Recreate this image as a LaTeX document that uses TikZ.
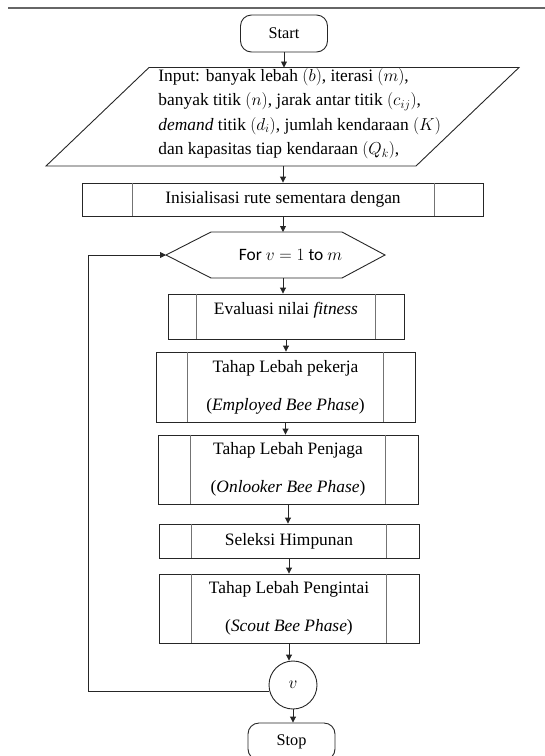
\documentclass[tikz,border=0pt]{standalone}
\usepackage{fontspec}
\setmainfont{Liberation Serif}
\newfontfamily\calibri{Carlito}
\usetikzlibrary{arrows.meta}

\begin{document}
\begin{tikzpicture}[x=1pt, y=-1pt, line width=0.9pt, draw=black!85,
        every node/.style={font=\fontsize{17.4}{21}\selectfont, inner sep=0pt},
        term/.style={draw, rounded corners=11pt, minimum width=87pt, minimum height=37pt, font=\fontsize{16.3}{20}\selectfont},
        proc/.style={draw, align=center},
        arr/.style={-{Triangle[length=6pt, width=6pt]}},
        inner/.style={draw=black!55}]
        \clip (0, 0) rectangle (545, 756);

        \draw[line width=1.6pt, black!60] (8, 8) -- (545, 8);

        \node (start) at (284, 33.5) [term] {Start};

        \draw (46, 166) -- (149, 67.5) -- (519, 67.5) -- (416, 166) -- cycle;
        \coordinate (intop) at (284, 67.5);
        \coordinate (inbot) at (283, 166);
        \node (input) at (158, 113.5) [anchor=west, align=left, font=\fontsize{17.4}{24.5}\selectfont] {Input: banyak lebah $(b)$, iterasi $(m)$,\\
            banyak titik $(n)$, jarak antar titik $(c_{ij})$,\\
            \textit{demand} titik $(d_i)$, jumlah kendaraan $(K)$\\
            dan kapasitas tiap kendaraan $(Q_k)$,};

        \node (init) at (283, 199.5) [proc, minimum width=401pt, minimum height=33pt] {Inisialisasi rute sementara dengan};

        \draw (166, 255) -- (211, 232) -- (342, 232) -- (385, 255) -- (342, 278) -- (211, 278) -- cycle;
        \coordinate (hextop) at (283, 232);
        \coordinate (hexbot) at (283, 278);
        \coordinate (hexw) at (166, 255);
        \node (forv) at (290.5, 255) [font=\calibri\fontsize{17.4}{21}\selectfont] {For $v=1$ to $m$};

        \node (eval) at (286, 316.5) [proc, minimum width=236pt, minimum height=45pt, text height=12pt, text depth=17pt] {Evaluasi nilai \textit{fitness}};
        \node (employed) at (285.5, 387) [proc, minimum width=259pt, minimum height=70pt] {Tahap Lebah pekerja\\[17pt](\textit{Employed Bee Phase})};
        \node (onlooker) at (288, 469.5) [proc, minimum width=260pt, minimum height=69pt] {Tahap Lebah Penjaga\\[17pt](\textit{Onlooker Bee Phase})};
        \node (seleksi) at (289, 541) [proc, minimum width=260pt, minimum height=34pt] {Seleksi Himpunan};
        \node (scout) at (289, 608.5) [proc, minimum width=260pt, minimum height=69pt] {Tahap Lebah Pengintai\\[17pt](\textit{Scout Bee Phase})};

        \node (vnode) at (293, 685) [draw, circle, minimum size=48pt] {$v$};
        \node (stop) at (291.5, 741.5) [term] {Stop};

        \foreach \n/\d in {init/50, eval/29, employed/32, onlooker/33, seleksi/33, scout/33}
            \draw[inner] ([xshift=\d pt]\n.north west) -- ([xshift=\d pt]\n.south west)
                ([xshift=-\d pt]\n.north east) -- ([xshift=-\d pt]\n.south east);

        \draw[arr] (start) -- (intop);
        \draw[arr] (inbot) -- (init);
        \draw[arr] (init) -- (hextop);
        \draw[arr] (hexbot) -- (hexbot |- eval.north);
        \foreach \a/\b in {eval/employed, employed/onlooker, onlooker/seleksi, seleksi/scout, scout/vnode, vnode/stop}
            \draw[arr] (\a.south) -- (\a.south |- \b.north);

        \coordinate (loop) at (88, 255);
        \draw[arr] (vnode.195) -| (loop) -- (hexw);
    \end{tikzpicture}
\end{document}
